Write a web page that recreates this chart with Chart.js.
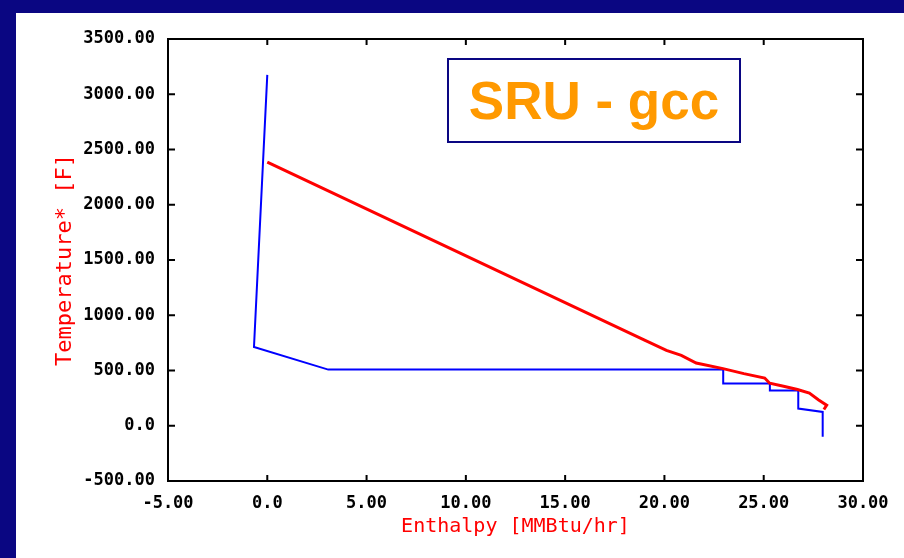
<!DOCTYPE html>
<html>
<head>
<meta charset="utf-8">
<script src="https://cdn.jsdelivr.net/npm/chart.js@4.4.1/dist/chart.umd.min.js"></script>
<style>
  html, body { margin: 0; padding: 0; }
  body { width: 904px; height: 558px; background: #0a0682; position: relative; overflow: hidden; }
  #panel { position: absolute; left: 16px; top: 13px; width: 888px; height: 545px; background: #fff; }
  #tag {
    position: absolute; left: 431px; top: 45px; width: 290px; height: 81px;
    border: 2px solid #0a0682; background: #fff;
    font: bold 53px "Liberation Sans", Arial, sans-serif; color: #ff9900;
    text-align: center; line-height: 81px;
  }
</style>
</head>
<body>
<div id="panel">
  <canvas id="gcc" width="888" height="545"></canvas>
  <div id="tag">SRU - gcc</div>
</div>
<script>
// hot composite curve (red)
const hotX = [0.0, 19.0, 20.1, 20.85, 21.6, 22.95, 24.0, 25.05, 25.3, 26.0, 26.7, 27.3, 27.75, 28.17, 28.03];
const hotT = [2385, 775, 682, 637, 568, 517, 472, 432, 385, 358, 328, 295, 235, 186, 147];

// cold composite curve (blue)
const coldX = [0.0, -0.67, 3.07, 22.96, 22.96, 25.31, 25.31, 26.74, 26.74, 27.97, 27.97];
const coldT = [3175, 712, 508, 508, 382, 382, 318, 318, 156, 125, -100];

const xTicks = [-5, 0, 5, 10, 15, 20, 25, 30];
const yTicks = [-500, 0, 500, 1000, 1500, 2000, 2500, 3000, 3500];

const fmt = v => v === 0 ? '0.0' : v.toFixed(2);
const pts = (xs, ys) => xs.map((x, i) => ({x: x, y: ys[i]}));

// frame with inward tick marks
const frame = {
  id: 'frame',
  afterDatasetsDraw(chart) {
    const {ctx, chartArea: a, scales: {x, y}} = chart;
    ctx.save();
    ctx.strokeStyle = '#000';
    ctx.lineWidth = 2;
    ctx.strokeRect(a.left, a.top, a.right - a.left, a.bottom - a.top);
    ctx.beginPath();
    xTicks.forEach(v => {
      const px = x.getPixelForValue(v);
      ctx.moveTo(px, a.bottom); ctx.lineTo(px, a.bottom - 6);
      ctx.moveTo(px, a.top); ctx.lineTo(px, a.top + 6);
    });
    yTicks.forEach(v => {
      const py = y.getPixelForValue(v);
      ctx.moveTo(a.left, py); ctx.lineTo(a.left + 7, py);
      ctx.moveTo(a.right, py); ctx.lineTo(a.right - 7, py);
    });
    ctx.stroke();
    ctx.restore();
  }
};

const tickFont = {family: '"DejaVu Sans Mono", monospace', size: 17, weight: 'bold'};

new Chart(document.getElementById('gcc'), {
  type: 'scatter',
  data: {
    datasets: [{
      label: 'Hot',
      data: pts(hotX, hotT),
      showLine: true,
      borderColor: '#ff0000',
      borderWidth: 3,
      pointRadius: 0,
      tension: 0
    }, {
      label: 'Cold',
      data: pts(coldX, coldT),
      showLine: true,
      borderColor: '#0000ff',
      borderWidth: 2,
      pointRadius: 0,
      tension: 0
    }]
  },
  options: {
    responsive: false,
    animation: false,
    layout: {padding: {left: 0, right: 41, top: 26, bottom: 0}},
    plugins: {legend: {display: false}, tooltip: {enabled: false}},
    scales: {
      x: {
        type: 'linear',
        min: -5, max: 30,
        afterBuildTicks: s => { s.ticks = xTicks.map(v => ({value: v})); },
        afterFit: s => { s.height = 77; },
        grid: {display: false, drawTicks: false},
        border: {display: false},
        ticks: {color: '#000', font: tickFont, padding: 12, maxRotation: 0, callback: fmt},
        title: {
          display: true, text: 'Enthalpy [MMBtu/hr]', color: '#ff0000',
          font: {family: '"DejaVu Sans Mono", monospace', size: 20},
          padding: {top: 0, bottom: 19}
        }
      },
      y: {
        type: 'linear',
        min: -500, max: 3500,
        afterBuildTicks: s => { s.ticks = yTicks.map(v => ({value: v})); },
        afterFit: s => { s.width = 152; },
        grid: {display: false, drawTicks: false},
        border: {display: false},
        ticks: {color: '#000', font: tickFont, padding: 13, callback: fmt},
        title: {
          display: true, text: 'Temperature* [F]', color: '#ff0000',
          font: {family: '"DejaVu Sans Mono", monospace', size: 22},
          padding: {top: 36, bottom: 0}
        }
      }
    }
  },
  plugins: [frame]
});
</script>
</body>
</html>
